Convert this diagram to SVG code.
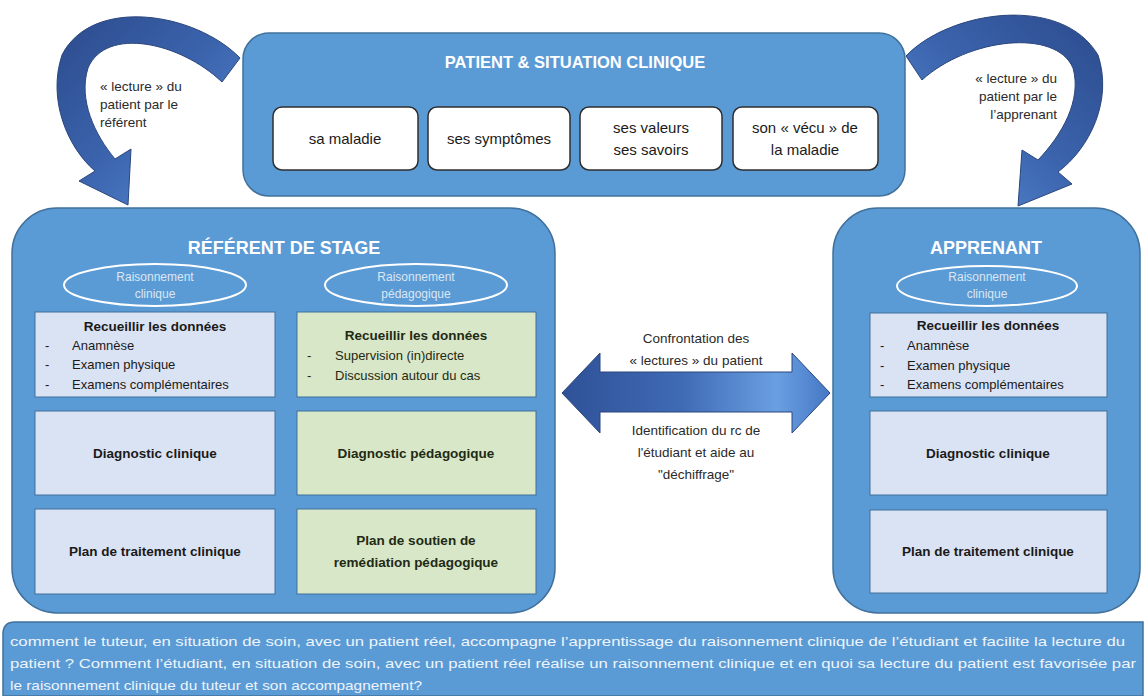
<svg xmlns="http://www.w3.org/2000/svg" width="1145" height="696" viewBox="0 0 1145 696">
<defs>
<linearGradient id="gArrowL" x1="0" y1="0" x2="1" y2="1">
<stop offset="0" stop-color="#2c4a8c"/><stop offset="0.5" stop-color="#3b64ad"/><stop offset="1" stop-color="#5a8fd6"/>
</linearGradient>
<linearGradient id="gArrowR" x1="1" y1="0" x2="0" y2="1">
<stop offset="0" stop-color="#2c4a8c"/><stop offset="0.5" stop-color="#3b64ad"/><stop offset="1" stop-color="#5a8fd6"/>
</linearGradient>
<linearGradient id="gDouble" x1="562" y1="0" x2="830" y2="0" gradientUnits="userSpaceOnUse">
<stop offset="0" stop-color="#2f5197"/><stop offset="0.45" stop-color="#3f6bb5"/><stop offset="0.8" stop-color="#6a9fe2"/><stop offset="1" stop-color="#4577c4"/>
</linearGradient>
<style>
.outer{fill:#5b9bd5;stroke:#41719c;stroke-width:1.5}
.wbox{fill:#ffffff;stroke:#2f2f2f;stroke-width:1.5}
.lbox{fill:#dae3f3;stroke:#41719c;stroke-width:1}
.gbox{fill:#d8e7c8;stroke:#41719c;stroke-width:1}
.ell{fill:none;stroke:#ffffff;stroke-width:2}
.arr{stroke:#2b467c;stroke-width:1}
text{font-family:"Liberation Sans",Arial,sans-serif}
.ttl{fill:#ffffff;font-weight:bold;text-anchor:middle}
.et{fill:#dbe6f4;font-size:12px;text-anchor:middle}
.bt{fill:#1a1a1a;font-size:13.5px;font-weight:bold;text-anchor:middle}
.it{fill:#1a1a1a;font-size:13px}
.gt{fill:#1f2a14}
.wt{fill:#1a1a1a;font-size:15px;text-anchor:middle}
.lab{fill:#2a2a2a;font-size:13.5px}
.ban{fill:#eef4fb;font-size:13.5px}
</style>
</defs>

<g id="connectors">
<path class="arr" fill="url(#gArrowL)" d="M240,58 C195,12 92,-4 62,55 C47,100 68,148 95,171 L79,181 L128,205 L131,149 L115,159 C95,135 78,100 88,68 C106,26 180,42 222,82 Z"/>
<path class="arr" fill="url(#gArrowR)" d="M906,56 C950,10 1062,-6 1098,55 C1113,100 1090,148 1058,172 L1072,184 L1018,206 L1022,150 L1038,160 C1062,135 1082,100 1073,68 C1056,28 968,38 922,80 Z"/>
<path class="arr" fill="url(#gDouble)" d="M562,393 L600,353 L600,372 L792,372 L792,353 L830,393 L792,433 L792,412 L600,412 L600,433 Z"/>
<text class="lab" x="100" y="91">« lecture » du</text>
<text class="lab" x="100" y="109">patient par le</text>
<text class="lab" x="100" y="127">référent</text>
<text class="lab" x="1057" y="83" text-anchor="end">« lecture » du</text>
<text class="lab" x="1057" y="101" text-anchor="end">patient par le</text>
<text class="lab" x="1057" y="119" text-anchor="end">l’apprenant</text>
<text class="lab" x="696" y="343" text-anchor="middle">Confrontation des</text>
<text class="lab" x="696" y="365" text-anchor="middle">« lectures » du patient</text>
<text class="lab" x="696" y="435" text-anchor="middle">Identification du rc de</text>
<text class="lab" x="696" y="457" text-anchor="middle">l'étudiant et aide au</text>
<text class="lab" x="696" y="479" text-anchor="middle">"déchiffrage"</text>
</g>

<g id="patient">
<rect class="outer" x="243" y="33" width="662" height="163" rx="26"/>
<text class="ttl" x="575" y="68" font-size="16.5">PATIENT &amp; SITUATION CLINIQUE</text>
</g>
<g id="maladie">
<rect class="wbox" x="273" y="107" width="145" height="63" rx="9"/>
<text class="wt" x="345" y="144">sa maladie</text>
</g>
<g id="symptomes">
<rect class="wbox" x="428" y="107" width="142" height="63" rx="9"/>
<text class="wt" x="499" y="144">ses symptômes</text>
</g>
<g id="valeurs">
<rect class="wbox" x="580" y="107" width="142" height="63" rx="9"/>
<text class="wt" x="651" y="133">ses valeurs</text>
<text class="wt" x="651" y="155">ses savoirs</text>
</g>
<g id="vecu">
<rect class="wbox" x="733" y="107" width="145" height="63" rx="9"/>
<text class="wt" x="805" y="133">son « vécu » de</text>
<text class="wt" x="805" y="155">la maladie</text>
</g>

<g id="referent">
<rect class="outer" x="12" y="208" width="543" height="405" rx="45"/>
<text class="ttl" x="284" y="254" font-size="18">RÉFÉRENT DE STAGE</text>
<ellipse class="ell" cx="155" cy="285" rx="91" ry="21"/>
<text class="et" x="155" y="281">Raisonnement</text>
<text class="et" x="155" y="298">clinique</text>
<ellipse class="ell" cx="416" cy="285" rx="91" ry="21"/>
<text class="et" x="416" y="281">Raisonnement</text>
<text class="et" x="416" y="298">pédagogique</text>
</g>
<g id="ref-recueil">
<rect class="lbox" x="35" y="312" width="240" height="85"/>
<text class="bt" x="155" y="331">Recueillir les données</text>
<text class="it" x="45" y="350">-</text><text class="it" x="72" y="350">Anamnèse</text>
<text class="it" x="45" y="369">-</text><text class="it" x="72" y="369">Examen physique</text>
<text class="it" x="45" y="389">-</text><text class="it" x="72" y="389">Examens complémentaires</text>
</g>
<g id="ref-diag">
<rect class="lbox" x="35" y="411" width="240" height="84"/>
<text class="bt" x="155" y="458">Diagnostic clinique</text>
</g>
<g id="ref-plan">
<rect class="lbox" x="35" y="509" width="240" height="85"/>
<text class="bt" x="155" y="556">Plan de traitement clinique</text>
</g>
<g id="ped-recueil">
<rect class="gbox" x="297" y="312" width="239" height="85"/>
<text class="bt gt" x="416" y="340">Recueillir les données</text>
<text class="it gt" x="307" y="360">-</text><text class="it gt" x="335" y="360">Supervision (in)directe</text>
<text class="it gt" x="307" y="380">-</text><text class="it gt" x="335" y="380">Discussion autour du cas</text>
</g>
<g id="ped-diag">
<rect class="gbox" x="297" y="411" width="239" height="84"/>
<text class="bt gt" x="416" y="458">Diagnostic pédagogique</text>
</g>
<g id="ped-plan">
<rect class="gbox" x="297" y="509" width="239" height="85"/>
<text class="bt gt" x="416" y="545">Plan de soutien de</text>
<text class="bt gt" x="416" y="567">remédiation pédagogique</text>
</g>

<g id="apprenant">
<rect class="outer" x="833" y="208" width="307" height="405" rx="45"/>
<text class="ttl" x="986" y="254" font-size="18">APPRENANT</text>
<ellipse class="ell" cx="987" cy="286" rx="90" ry="20"/>
<text class="et" x="987" y="281">Raisonnement</text>
<text class="et" x="987" y="298">clinique</text>
</g>
<g id="app-recueil">
<rect class="lbox" x="870" y="313" width="237" height="84"/>
<text class="bt" x="988" y="330">Recueillir les données</text>
<text class="it" x="880" y="350">-</text><text class="it" x="907" y="350">Anamnèse</text>
<text class="it" x="880" y="370">-</text><text class="it" x="907" y="370">Examen physique</text>
<text class="it" x="880" y="389">-</text><text class="it" x="907" y="389">Examens complémentaires</text>
</g>
<g id="app-diag">
<rect class="lbox" x="870" y="411" width="237" height="84"/>
<text class="bt" x="988" y="458">Diagnostic clinique</text>
</g>
<g id="app-plan">
<rect class="lbox" x="870" y="510" width="237" height="83"/>
<text class="bt" x="988" y="556">Plan de traitement clinique</text>
</g>

<g id="question">
<path class="outer" d="M3,696 L3,634 Q3,622 15,622 L1143,622 L1143,696 Z"/>
<text class="ban" x="10" y="646" textLength="1115" lengthAdjust="spacingAndGlyphs">comment le tuteur, en situation de soin, avec un patient réel, accompagne l’apprentissage du raisonnement clinique de l’étudiant et facilite la lecture du</text>
<text class="ban" x="10" y="668" textLength="1126" lengthAdjust="spacingAndGlyphs">patient ? Comment l’étudiant, en situation de soin, avec un patient réel réalise un raisonnement clinique et en quoi sa lecture du patient est favorisée par</text>
<text class="ban" x="10" y="690" textLength="412" lengthAdjust="spacingAndGlyphs">le raisonnement  clinique du tuteur et son accompagnement?</text>
</g>
</svg>
